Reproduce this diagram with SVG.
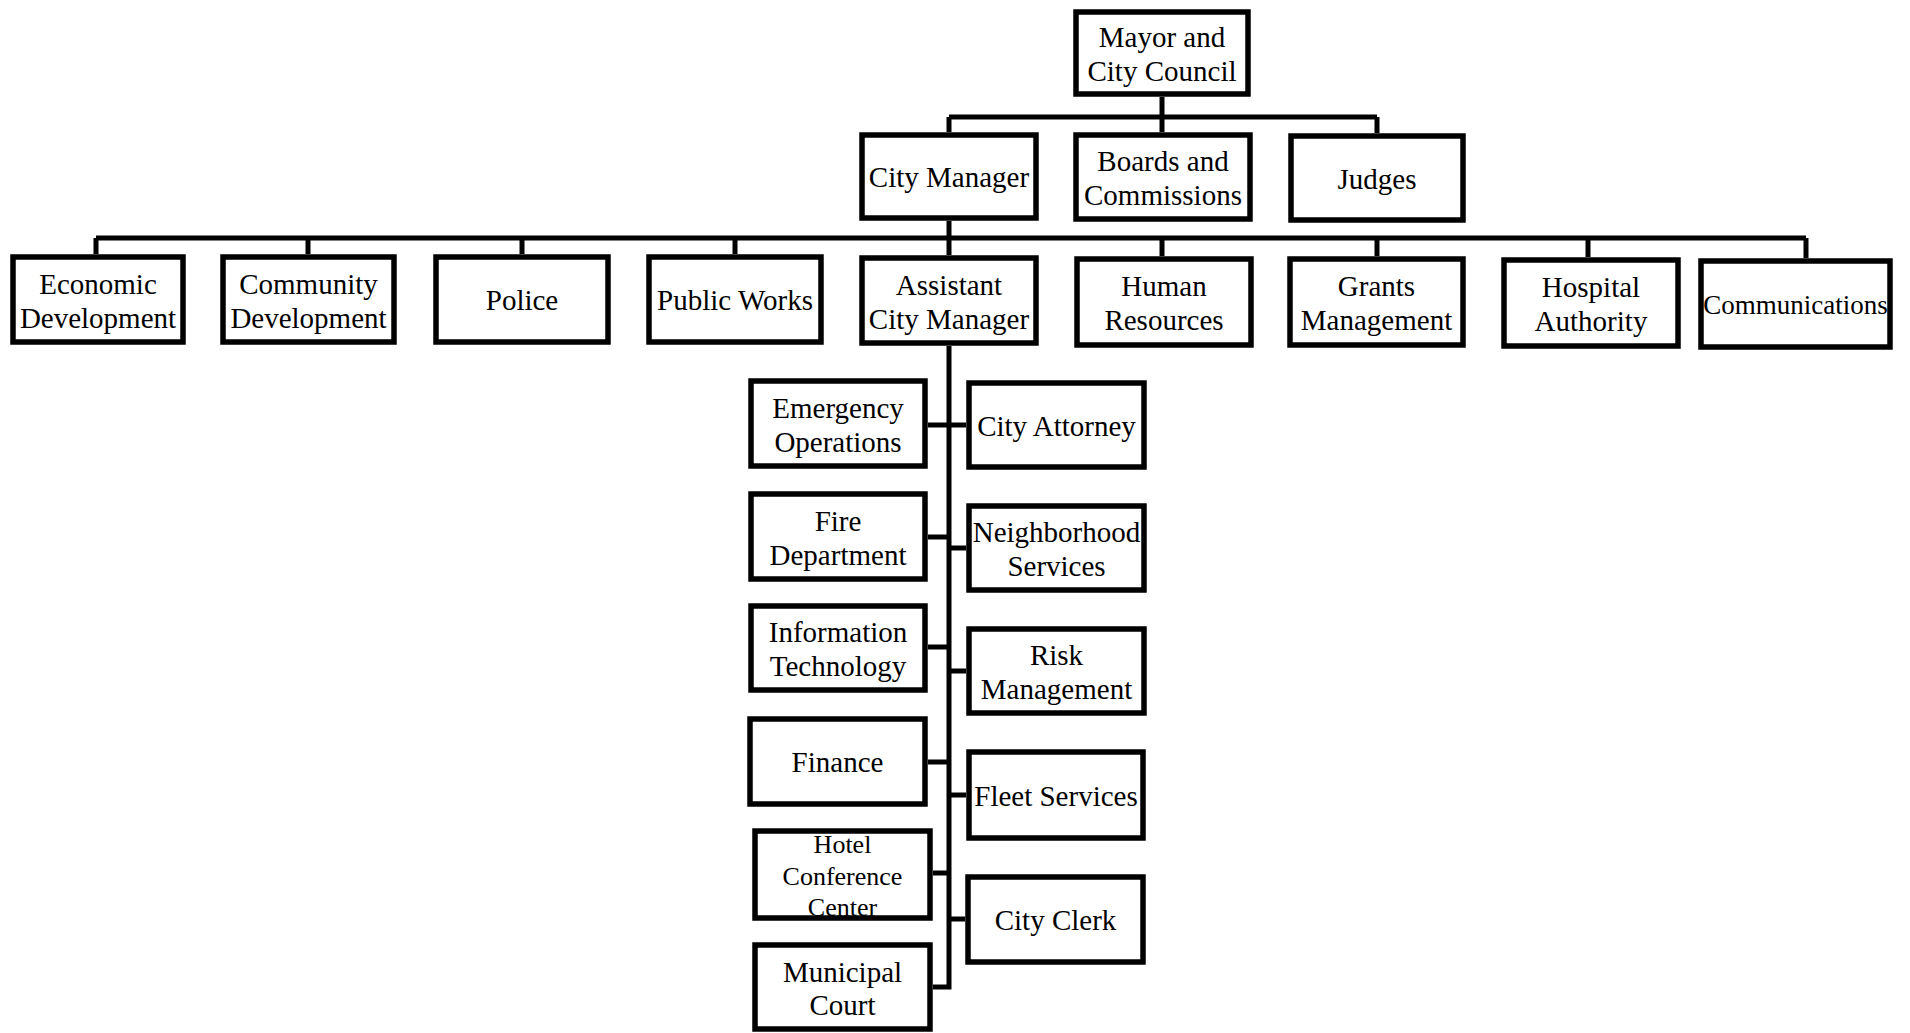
<svg xmlns="http://www.w3.org/2000/svg" width="1910" height="1033" viewBox="0 0 1910 1033">
<style>
.box{fill:#fff;stroke:#000;stroke-width:5.5}
.ln{fill:none;stroke:#000;stroke-width:5}
text{font-family:"Liberation Serif","Times New Roman",serif;font-size:29px;fill:#000;text-anchor:middle}
.sm{font-size:26px}
.cm{font-size:27px}
</style>
<rect width="1910" height="1033" fill="#fff"/>
<g id="connectors">
<path class="ln" d="M1162 97V117M949 117H1377M949 117V132M1162 117V132M1377 117V133"/>
<path class="ln" d="M949 221V238M96 238H1806M96 238V254M308 238V254M522 238V254M735 238V254M949 238V255M1162 238V256M1377 238V256M1588 238V257M1806 238V258"/>
<path class="ln" d="M949 346V987H933M928 425H966M928 537H949M949 548H966M928 647H949M949 671H966M928 762H949M949 795H966M933 873H949M949 919H965"/>
</g>
<g id="mayor"><rect class="box" x="1076" y="12" width="172" height="82"/><text x="1162" y="47">Mayor and</text><text x="1162" y="81">City Council</text></g>
<g id="city-manager"><rect class="box" x="862" y="135" width="174" height="83"/><text x="949" y="187">City Manager</text></g>
<g id="boards"><rect class="box" x="1076" y="135" width="174" height="84"/><text x="1163" y="171">Boards and</text><text x="1163" y="205">Commissions</text></g>
<g id="judges"><rect class="box" x="1291" y="136" width="172" height="84"/><text x="1377" y="188.5">Judges</text></g>
<g id="economic"><rect class="box" x="13" y="257" width="170" height="85"/><text x="98" y="293.5">Economic</text><text x="98" y="327.5">Development</text></g>
<g id="community"><rect class="box" x="223" y="257" width="171" height="85"/><text x="308.5" y="293.5">Community</text><text x="308.5" y="327.5">Development</text></g>
<g id="police"><rect class="box" x="436" y="257" width="172" height="85"/><text x="522" y="310">Police</text></g>
<g id="public-works"><rect class="box" x="649" y="257" width="172" height="85"/><text x="735" y="310">Public Works</text></g>
<g id="assistant"><rect class="box" x="862" y="258" width="174" height="85"/><text x="949" y="294.5">Assistant</text><text x="949" y="328.5">City Manager</text></g>
<g id="hr"><rect class="box" x="1077" y="259" width="174" height="86"/><text x="1164" y="296">Human</text><text x="1164" y="330">Resources</text></g>
<g id="grants"><rect class="box" x="1290" y="259" width="173" height="86"/><text x="1376.5" y="296">Grants</text><text x="1376.5" y="330">Management</text></g>
<g id="hospital"><rect class="box" x="1504" y="260" width="174" height="86"/><text x="1591" y="297">Hospital</text><text x="1591" y="331">Authority</text></g>
<g id="communications"><rect class="box" x="1701" y="261" width="189" height="86"/><text class="cm" x="1795.5" y="314">Communications</text></g>
<g id="emergency"><rect class="box" x="751" y="381" width="174" height="85"/><text x="838" y="418">Emergency</text><text x="838" y="452">Operations</text></g>
<g id="fire"><rect class="box" x="751" y="494" width="174" height="85"/><text x="838" y="531">Fire</text><text x="838" y="565">Department</text></g>
<g id="it"><rect class="box" x="751" y="606" width="174" height="84"/><text x="838" y="642">Information</text><text x="838" y="676">Technology</text></g>
<g id="finance"><rect class="box" x="750" y="719" width="175" height="85"/><text x="837.5" y="772">Finance</text></g>
<g id="hotel"><rect class="box" x="755" y="831" width="175" height="87"/><text class="sm" x="842.5" y="853">Hotel</text><text class="sm" x="842.5" y="884.5">Conference</text><text class="sm" x="842.5" y="916">Center</text></g>
<g id="municipal"><rect class="box" x="755" y="945" width="175" height="84"/><text x="842.5" y="981.5">Municipal</text><text x="842.5" y="1015">Court</text></g>
<g id="attorney"><rect class="box" x="969" y="383" width="175" height="84"/><text x="1056.5" y="436">City Attorney</text></g>
<g id="neighborhood"><rect class="box" x="969" y="506" width="175" height="84"/><text x="1056.5" y="542">Neighborhood</text><text x="1056.5" y="576">Services</text></g>
<g id="risk"><rect class="box" x="969" y="629" width="175" height="84"/><text x="1056.5" y="665">Risk</text><text x="1056.5" y="699">Management</text></g>
<g id="fleet"><rect class="box" x="969" y="752" width="174" height="86"/><text x="1056" y="805.5">Fleet Services</text></g>
<g id="clerk"><rect class="box" x="968" y="877" width="175" height="85"/><text x="1055.5" y="930">City Clerk</text></g>
</svg>
